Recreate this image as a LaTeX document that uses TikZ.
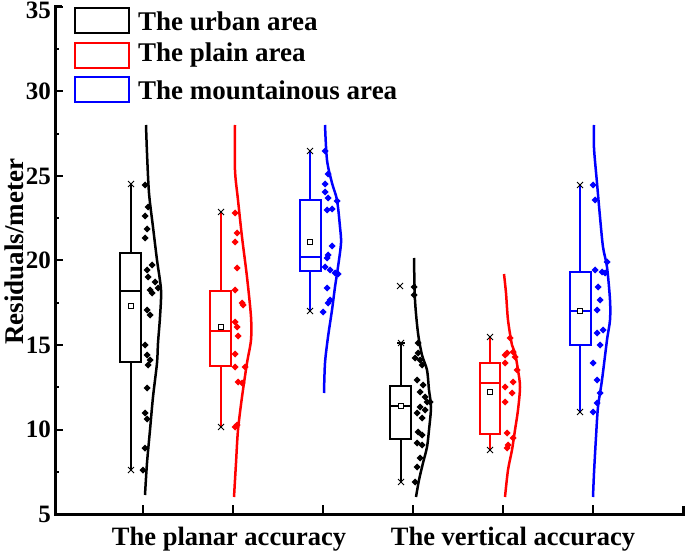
\documentclass[tikz,border=0pt]{standalone}
\usepackage{fontspec}
\setmainfont{Liberation Serif}
\begin{document}
\begin{tikzpicture}[x=1pt,y=-1pt,line join=miter,
  axisline/.style={line width=3pt,black},
  boxline/.style={line width=2pt},
  violin/.style={line width=2.5pt},
  lbl/.style={font=\fontsize{25}{27}\selectfont\bfseries,inner sep=0pt},
  leg/.style={font=\fontsize{27}{29}\selectfont\bfseries,inner sep=0pt,anchor=west},
  meanmark/.style={draw=black,fill=white,line width=1pt,minimum size=5pt,inner sep=0pt}]
\useasboundingbox (0,0) rectangle (685,553);
% axes
\draw[axisline] (62,7) -- (55,7) -- (55,514) -- (683,514) -- (683,506);
\foreach \v/\t in {35/35,30/30,25/25,20/20,15/15,10/10,5/5}{
  \pgfmathsetmacro\yy{514-(\v-5)*16.9}
  \ifnum\v=35 \node[lbl,anchor=east] (t\v) at (51,10.5) {\t};
  \else \node[lbl,anchor=east] (t\v) at (51,\yy) {\t}; \fi
  \ifnum\v>5 \draw[line width=2pt] (55,\yy) -- (63,\yy); \fi
}
\foreach \v in {7.5,12.5,17.5,22.5,27.5,32.5}{
  \pgfmathsetmacro\yy{514-(\v-5)*16.9}
  \draw[line width=2pt] (55,\yy) -- (59,\yy);
}
\foreach \x in {143,233,323,413,503,593}{
  \draw[line width=2pt] (\x,514) -- (\x,505);
}
\node[lbl,rotate=90,font=\fontsize{27}{29}\selectfont\bfseries] (ylab) at (14,252) {Residuals/meter};
\node[lbl,font=\fontsize{26.5}{28}\selectfont\bfseries] (xl1) at (229,539) {The planar accuracy};
\node[lbl,font=\fontsize{26.5}{28}\selectfont\bfseries] (xl2) at (513,539) {The vertical accuracy};
% legend
\node[draw=black,line width=2pt,minimum width=54pt,minimum height=25pt,inner sep=0pt] (lg1) at (101.5,21) {};
\node[draw=red,line width=2pt,minimum width=54pt,minimum height=25pt,inner sep=0pt] (lg2) at (101.5,55.5) {};
\node[draw=blue,line width=2pt,minimum width=54pt,minimum height=25pt,inner sep=0pt] (lg3) at (101.5,90) {};
\node[leg] (lt1) at (138,21) {The urban area};
\node[leg] (lt2) at (138,55.5) {The plain area};
\node[leg] (lt3) at (138,90) {The mountainous area};
% violins
\draw[violin,black] plot[smooth] coordinates {(146,125) (147,153) (149,193) (153,227) (157,260) (161,290) (160,317) (158,343) (157,363) (153,397) (150,430) (147,463) (145,495)};
\draw[violin,red] plot[smooth] coordinates {(235,125) (235,170) (238,200) (242,237) (247,277) (251,317) (251,340) (247,363) (242,397) (238,430) (236,463) (234,497)};
\draw[violin,blue] plot[smooth] coordinates {(325,125) (327,160) (332,183) (337,200) (340,227) (341,243) (338,267) (335,287) (332,310) (328,337) (325,363) (324,393)};
\draw[violin,black] plot[smooth] coordinates {(414,258) (415,300) (418,333) (422,355) (427,370) (429,390) (431,407) (429,430) (427,447) (423,463) (419,480) (416,497)};
\draw[violin,red] plot[smooth] coordinates {(504,274) (506,293) (508,320) (512,345) (515,353) (518,370) (520,387) (518,410) (515,430) (512,450) (508,470) (505,497)};
\draw[violin,blue] plot[smooth] coordinates {(594,125) (594,148) (597,183) (600,217) (603,247) (607,267) (610,300) (610,320) (607,340) (602,380) (598,407) (596,437) (594,473) (593,497)};
% diamonds
\foreach \c/\pts in {
 black/{(145,185),(148,207),(145,216),(147,229),(145,238),(152,265),(147,270),(148,277),(155,282),(150,290),(158,288),(152,293),(147,310),(150,315),(145,345),(147,355),(150,360),(148,365),(147,388),(145,413),(147,419),(145,448),(143,470)},
 red/{(235,213),(237,233),(235,242),(237,268),(235,290),(242,303),(243,305),(235,322),(237,327),(238,336),(235,354),(235,367),(245,367),(238,382),(242,383),(235,427),(237,425)},
 blue/{(325,151),(328,174),(325,184),(325,192),(328,198),(337,201),(327,210),(332,209),(332,246),(328,255),(327,258),(325,267),(330,270),(335,273),(338,274),(327,288),(330,300),(328,303),(323,312)},
 black/{(414,287),(414,295),(418,343),(415,358),(418,353),(420,360),(422,365),(417,380),(423,385),(420,392),(425,397),(427,402),(430,402),(420,407),(425,410),(417,413),(422,418),(418,432),(422,435),(417,443),(422,445),(420,458),(417,467),(415,482)},
 red/{(510,338),(507,353),(505,355),(513,352),(515,357),(505,363),(517,370),(513,382),(505,387),(512,393),(505,402),(507,433),(513,438),(508,445),(507,448)},
 blue/{(593,185),(595,200),(607,262),(595,270),(602,272),(605,273),(598,287),(600,300),(597,310),(603,330),(597,333),(600,345),(593,363),(597,380),(600,393),(597,403),(593,412)}}{
  \foreach \p in \pts {
    \fill[\c] \p +(-3.5,0) -- +(0,-3.5) -- +(3.5,0) -- +(0,3.5) -- cycle;
  }
}
% box plots: whiskerx/left/right/wtop/q3/med/q1/wbot/color
\foreach \wx/\bl/\br/\wt/\qt/\md/\qb/\wb/\c in {
 131/120/141/184/253/291/362/470/black,
 221/210/231/212/291/331/366/427/red,
 310/300/321/151/200/257/271/311/blue,
 401/390/411/343/386/406/439/482/black,
 490/480/500/337/363/383/434/450/red,
 580/570/591/185/272/311/345/412/blue}{
  \draw[boxline,\c] (\wx,\wt) -- (\wx,\qt) (\wx,\qb) -- (\wx,\wb);
  \draw[boxline,\c] (\bl,\qt) rectangle (\br,\qb);
  \draw[boxline,\c] (\bl,\md) -- (\br,\md);
  \draw[black,line width=1pt] (\wx-3,\wt-3) -- (\wx+3,\wt+3) (\wx-3,\wt+3) -- (\wx+3,\wt-3);
  \draw[black,line width=1pt] (\wx-3,\wb-3) -- (\wx+3,\wb+3) (\wx-3,\wb+3) -- (\wx+3,\wb-3);
}
\draw[black,line width=1.5pt] (397,343) -- (405,343);
\draw[black,line width=1pt] (397,283) -- (403,289) (397,289) -- (403,283);
% means
\node[meanmark] (m1) at (131,306) {};
\node[meanmark] (m2) at (221,327) {};
\node[meanmark] (m3) at (310,242) {};
\node[meanmark] (m4) at (401,406) {};
\node[meanmark] (m5) at (490,392) {};
\node[meanmark] (m6) at (580,311) {};
\end{tikzpicture}
\end{document}
